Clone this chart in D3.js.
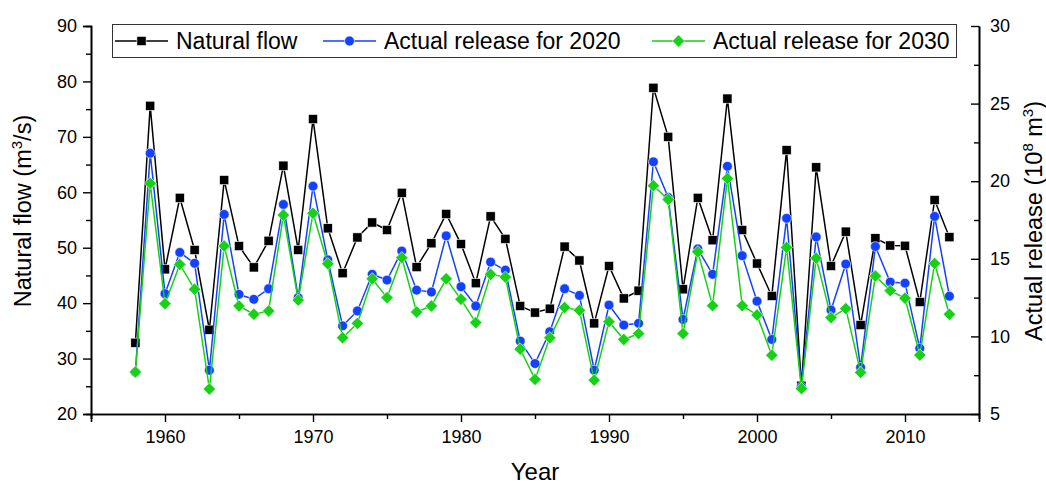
<!DOCTYPE html>
<html>
<head>
<meta charset="utf-8">
<script src="https://cdn.jsdelivr.net/npm/d3@7"></script>
<style>
  body { margin: 0; background: #fff; }
  svg { font-family: "Liberation Sans", Arial, sans-serif; }
</style>
</head>
<body>
<svg id="mainSvg" width="1046" height="484"></svg>
<script>
// data
var years = [1958, 1959, 1960, 1961, 1962, 1963, 1964, 1965, 1966, 1967,
             1968, 1969, 1970, 1971, 1972, 1973, 1974, 1975, 1976, 1977,
             1978, 1979, 1980, 1981, 1982, 1983, 1984, 1985, 1986, 1987,
             1988, 1989, 1990, 1991, 1992, 1993, 1994, 1995, 1996, 1997,
             1998, 1999, 2000, 2001, 2002, 2003, 2004, 2005, 2006, 2007,
             2008, 2009, 2010, 2011, 2012, 2013];

// natural flow, m3/s (left axis)
var naturalFlow = [32.85, 75.6, 46.1, 59.0, 49.6, 35.2, 62.2, 50.3, 46.45, 51.25,
                   64.8, 49.6, 73.2, 53.5, 45.4, 51.85, 54.55, 53.2, 59.9, 46.5,
                   50.8, 56.1, 50.65, 43.6, 55.65, 51.6, 39.5, 38.3, 39.0, 50.2,
                   47.7, 36.35, 46.7, 40.85, 42.25, 78.85, 70.0, 42.5, 59.0, 51.35,
                   76.9, 53.2, 47.15, 41.3, 67.6, 25.1, 64.5, 46.7, 52.9, 36.05,
                   51.7, 50.4, 50.35, 40.2, 58.6, 51.9];

// actual release for 2020, 10^8 m3 (right axis)
var release2020 = [7.68, 21.80, 12.75, 15.41, 14.71, 7.82, 17.86, 12.71, 12.39, 13.07,
                   18.50, 12.50, 19.68, 14.93, 10.68, 11.64, 14.00, 13.63, 15.50, 12.98,
                   12.86, 16.48, 13.20, 11.96, 14.79, 14.27, 9.70, 8.25, 10.30, 13.07,
                   12.64, 7.82, 12.02, 10.73, 10.84, 21.25, 18.95, 11.09, 15.64, 14.00,
                   20.96, 15.20, 12.27, 9.80, 17.61, 6.75, 16.41, 11.70, 14.66, 8.00,
                   15.79, 13.50, 13.43, 9.23, 17.73, 12.59];

// actual release for 2030, 10^8 m3 (right axis)
var release2030 = [7.71, 19.86, 12.11, 14.64, 13.04, 6.61, 15.82, 11.96, 11.43, 11.64,
                   17.82, 12.34, 17.93, 14.68, 9.91, 10.84, 13.71, 12.50, 15.07, 11.57,
                   11.96, 13.71, 12.39, 10.89, 14.00, 13.82, 9.18, 7.23, 9.91, 11.86,
                   11.68, 7.18, 10.95, 9.80, 10.18, 19.71, 18.82, 10.18, 15.45, 11.98,
                   20.18, 11.98, 11.38, 8.79, 15.73, 6.64, 15.04, 11.21, 11.79, 7.68,
                   13.89, 12.95, 12.46, 8.80, 14.70, 11.43];

var seriesNames = ["Natural flow", "Actual release for 2020", "Actual release for 2030"];

var xTicks = [1960, 1970, 1980, 1990, 2000, 2010];
var yLeftTicks = [20, 30, 40, 50, 60, 70, 80, 90];
var yRightTicks = [5, 10, 15, 20, 25, 30];

var margin = {top: 26, right: 67, bottom: 70, left: 91},
    width = 1046 - margin.left - margin.right,
    height = 484 - margin.top - margin.bottom;

var x = d3.scaleLinear().domain([1955, 2015]).range([0, width]);
var yL = d3.scaleLinear().domain([20, 90]).range([height, 0]);
var yR = d3.scaleLinear().domain([5, 30]).range([height, 0]);

var svg = d3.select("#mainSvg");
var g = svg.append("g").attr("transform", "translate(" + margin.left + "," + margin.top + ")");

var tickFont = 18;

// x axis: minor then major
g.append("g")
  .attr("class", "axis")
  .attr("transform", "translate(0," + height + ")")
  .call(d3.axisBottom(x).tickValues([1955, 1965, 1975, 1985, 1995, 2005, 2015]).tickSize(5).tickFormat(""));
g.append("g")
  .attr("class", "axis")
  .attr("transform", "translate(0," + height + ")")
  .call(d3.axisBottom(x).tickValues(xTicks).tickSize(8).tickPadding(8).tickFormat(d3.format("d")));

// left axis
g.append("g")
  .attr("class", "axis")
  .call(d3.axisLeft(yL).tickValues([25, 35, 45, 55, 65, 75, 85]).tickSize(5).tickFormat(""));
g.append("g")
  .attr("class", "axis")
  .call(d3.axisLeft(yL).tickValues(yLeftTicks).tickSize(8).tickPadding(6));

// right axis, ticks point inward
g.append("g")
  .attr("class", "axis")
  .attr("transform", "translate(" + width + ",0)")
  .call(d3.axisRight(yR).tickValues([7.5, 12.5, 17.5, 22.5, 27.5]).tickSizeInner(-5).tickSizeOuter(0).tickFormat(""));
g.append("g")
  .attr("class", "axis")
  .attr("transform", "translate(" + width + ",0)")
  .call(d3.axisRight(yR).tickValues(yRightTicks).tickSizeInner(-8).tickSizeOuter(0).tickPadding(11));

g.selectAll(".axis path").attr("stroke", "#000").attr("stroke-width", 1.6);
g.selectAll(".axis line").attr("stroke", "#000").attr("stroke-width", 1.4);
g.selectAll(".axis text").attr("font-size", tickFont).attr("fill", "#000")
  .style("font-family", "'Liberation Sans', Arial, sans-serif");

// axis titles
svg.append("text")
  .attr("x", margin.left + width / 2)
  .attr("y", 480)
  .attr("text-anchor", "middle")
  .attr("font-size", 24)
  .text("Year");

var lt = svg.append("text")
  .attr("transform", "translate(31,211) rotate(-90)")
  .attr("text-anchor", "middle")
  .attr("font-size", 23.5);
lt.append("tspan").text("Natural flow (m");
lt.append("tspan").attr("dy", -9).attr("font-size", 15).text("3");
lt.append("tspan").attr("dy", 9).text("/s)");

var rt = svg.append("text")
  .attr("transform", "translate(1042,221) rotate(-90)")
  .attr("text-anchor", "middle")
  .attr("font-size", 23.5);
rt.append("tspan").text("Actual release (10");
rt.append("tspan").attr("dy", -9).attr("font-size", 15).text("8");
rt.append("tspan").attr("dy", 9).text(" m");
rt.append("tspan").attr("dy", -9).attr("font-size", 15).text("3");
rt.append("tspan").attr("dy", 9).text(")");

// series
var colors = ["#000000", "#1441ff", "#16d116"];
var diamondPath = "M0,-6.2L6.2,0L0,6.2L-6.2,0Z";

var seriesData = [
  {name: seriesNames[0], values: naturalFlow, y: yL, shape: "square"},
  {name: seriesNames[1], values: release2020, y: yR, shape: "circle"},
  {name: seriesNames[2], values: release2030, y: yR, shape: "diamond"}
];

function drawMarker(sel, shape, color) {
  if (shape === "square") {
    sel.append("rect").attr("x", -4.6).attr("y", -4.6).attr("width", 9.2).attr("height", 9.2)
      .attr("fill", color).attr("stroke", "#fff").attr("stroke-width", 0.6);
  } else if (shape === "circle") {
    sel.append("circle").attr("r", 4.9).attr("fill", color)
      .attr("stroke", "#fff").attr("stroke-width", 0.6);
  } else {
    sel.append("path").attr("d", diamondPath).attr("fill", color)
      .attr("stroke", "#fff").attr("stroke-width", 0.6);
  }
}

seriesData.forEach(function(s, i) {
  var line = d3.line()
    .x(function(d, j) { return x(years[j]); })
    .y(function(d) { return s.y(d); });

  g.append("path")
    .datum(s.values)
    .attr("fill", "none")
    .attr("stroke", colors[i])
    .attr("stroke-width", 1.5)
    .attr("d", line);

  var pts = g.selectAll(".pt" + i)
    .data(s.values)
    .enter().append("g")
    .attr("class", "pt" + i)
    .attr("transform", function(d, j) { return "translate(" + x(years[j]) + "," + s.y(d) + ")"; });
  drawMarker(pts, s.shape, colors[i]);
});

// legend
var legend = svg.append("g");
legend.append("rect")
  .attr("x", 112.5).attr("y", 24.5).attr("width", 844).attr("height", 33)
  .attr("fill", "#fff").attr("stroke", "#333").attr("stroke-width", 1);

var legendX = [115, 323, 652];
seriesData.forEach(function(s, i) {
  var lg = legend.append("g").attr("transform", "translate(" + legendX[i] + ",41)");
  lg.append("line").attr("x1", 0).attr("x2", 53).attr("y1", 0).attr("y2", 0)
    .attr("stroke", colors[i]).attr("stroke-width", 1.5);
  var m = lg.append("g").attr("transform", "translate(26.5,0)");
  drawMarker(m, s.shape, colors[i]);
  lg.append("text").attr("x", 61).attr("y", 8.3)
    .attr("font-size", 23).attr("fill", "#000").text(s.name);
});
</script>
</body>
</html>
